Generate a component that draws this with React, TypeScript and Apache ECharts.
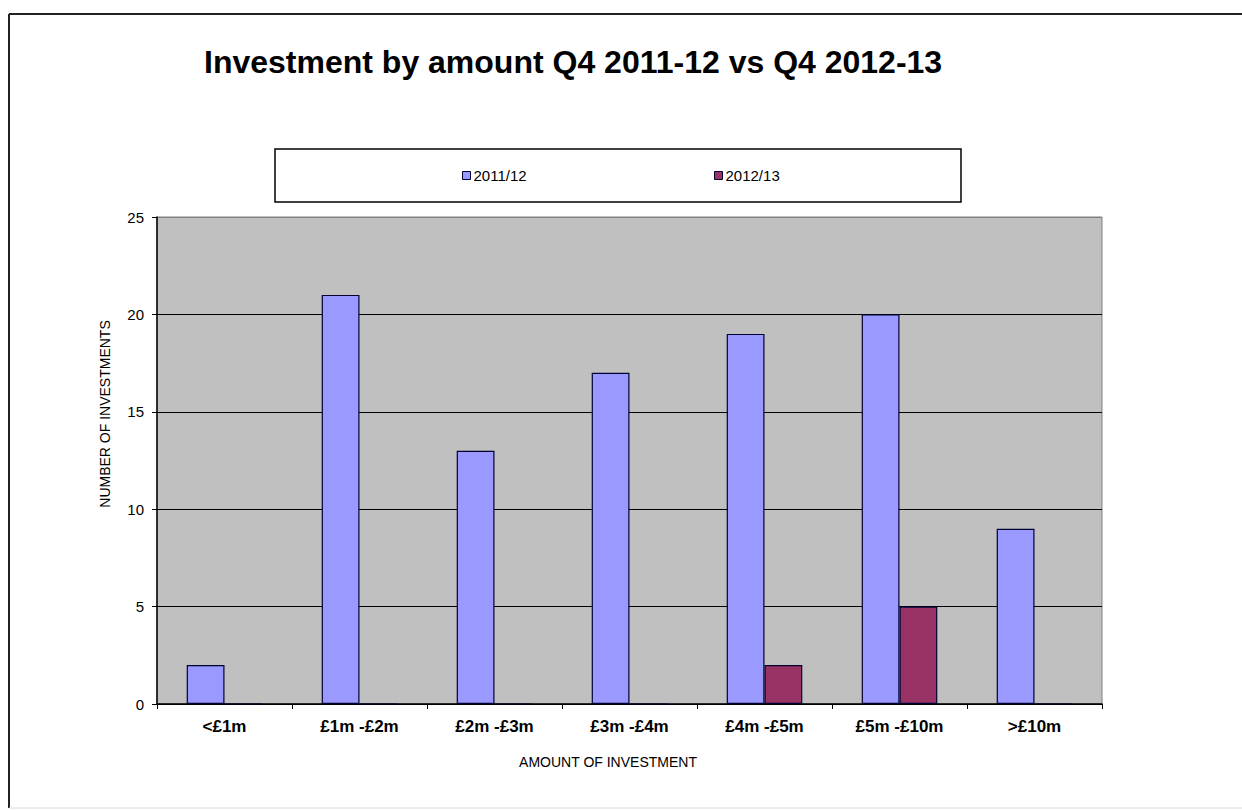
import React, { useEffect, useRef } from "react";
import * as echarts from "echarts";

const categories = ["<£1m", "£1m -£2m", "£2m -£3m", "£3m -£4m", "£4m -£5m", "£5m -£10m", ">£10m"];
const series2011 = [2, 21, 13, 17, 19, 20, 9];
const series2012 = [0, 0, 0, 0, 2, 5, 0];
const yTicks = { min: 0, max: 25, interval: 5 };
const titleText = "Investment by amount Q4 2011-12 vs Q4 2012-13";
const xName = "AMOUNT OF INVESTMENT";
const yName = "NUMBER OF INVESTMENTS";

const FONT = "'Liberation Sans', Arial, sans-serif";

export default function App() {
  const ref = useRef<HTMLDivElement>(null);
  useEffect(() => {
    if (!ref.current) return;
    const chart = echarts.init(ref.current, null, { renderer: "svg" });
    chart.setOption({
      animation: false,
      backgroundColor: "#ffffff",
      textStyle: { fontFamily: FONT },
      title: {
        text: titleText,
        left: 204,
        top: 46,
        padding: 0,
        textStyle: { fontFamily: FONT, fontSize: 32, fontWeight: "bold", color: "#000" },
      },
      legend: [
        {
          data: ["2011/12"],
          left: 462,
          top: 168,
          padding: 0,
          itemWidth: 8,
          itemHeight: 8,
          itemGap: 4,
          icon: "rect",
          itemStyle: { borderColor: "#000033", borderWidth: 1 },
          textStyle: { fontFamily: FONT, fontSize: 15, color: "#000", padding: [0, 0, 0, -2] },
        },
        {
          data: ["2012/13"],
          left: 714,
          top: 168,
          padding: 0,
          itemWidth: 8,
          itemHeight: 8,
          itemGap: 4,
          icon: "rect",
          itemStyle: { borderColor: "#000033", borderWidth: 1 },
          textStyle: { fontFamily: FONT, fontSize: 15, color: "#000", padding: [0, 0, 0, -2] },
        },
      ],
      graphic: [
        { type: "line", shape: { x1: 9, y1: 14, x2: 1242, y2: 14 }, style: { stroke: "#222", lineWidth: 2 } },
        { type: "line", shape: { x1: 9, y1: 14, x2: 9, y2: 808 }, style: { stroke: "#222", lineWidth: 2 } },
        { type: "line", shape: { x1: 9, y1: 808, x2: 1242, y2: 808 }, style: { stroke: "#d8d8d8", lineWidth: 1 } },
        {
          type: "rect",
          shape: { x: 275, y: 149, width: 686, height: 53 },
          style: { fill: "#ffffff", stroke: "#000", lineWidth: 1.5 },
          z: -1,
        },
        {
          type: "text",
          x: 608,
          y: 762,
          style: { text: xName, fontFamily: FONT, fontSize: 14, fill: "#000", align: "center", verticalAlign: "middle" },
        },
        {
          type: "text",
          x: 105,
          y: 414,
          rotation: Math.PI / 2,
          style: { text: yName, fontFamily: FONT, fontSize: 14, fill: "#000", align: "center", verticalAlign: "middle" },
        },
      ],
      grid: {
        left: 157,
        top: 217,
        right: 140,
        bottom: 106,
        show: true,
        backgroundColor: "#c0c0c0",
        borderColor: "#808080",
        borderWidth: 1,
      },
      xAxis: {
        type: "category",
        data: categories,
        boundaryGap: true,
        axisLine: { show: true, lineStyle: { color: "#000", width: 1.5 } },
        axisTick: { show: true, length: 5, lineStyle: { color: "#000" } },
        axisLabel: { fontFamily: FONT, fontSize: 17, fontWeight: "bold", color: "#000", margin: 14, interval: 0 },
        splitLine: { show: false },
      },
      yAxis: {
        type: "value",
        min: yTicks.min,
        max: yTicks.max,
        interval: yTicks.interval,
        axisLine: { show: true, lineStyle: { color: "#000", width: 1.5 } },
        axisTick: { show: true, length: 5, lineStyle: { color: "#000" } },
        axisLabel: { fontFamily: FONT, fontSize: 15, color: "#000", margin: 13 },
        splitLine: {
          show: true,
          lineStyle: { color: ["#000", "#000", "#000", "#000", "#000", "#808080"], width: 1.2 },
        },
      },
      series: [
        {
          name: "2011/12",
          type: "bar",
          data: series2011,
          barWidth: "28%",
          barGap: "0%",
          itemStyle: { color: "#9999ff", borderColor: "#000033", borderWidth: 1.2 },
        },
        {
          name: "2012/13",
          type: "bar",
          data: series2012,
          barWidth: "28%",
          barGap: "0%",
          itemStyle: { color: "#993366", borderColor: "#000033", borderWidth: 1.2 },
        },
      ],
    });
    return () => chart.dispose();
  }, []);
  return (
    <div
      ref={ref}
      style={{ position: "fixed", left: 0, top: 0, width: 1242, height: 810 }}
    />
  );
}
